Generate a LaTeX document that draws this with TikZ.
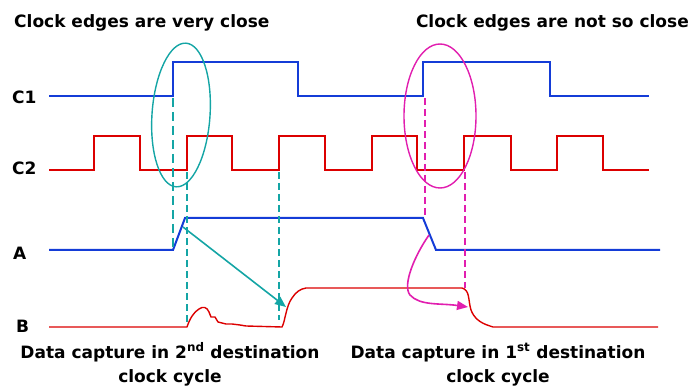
\documentclass[tikz,border=0pt]{standalone}
\usepackage{fontspec}
\setmainfont{DejaVu Sans}
\usetikzlibrary{arrows.meta}
\definecolor{sigblue}{RGB}{20,60,215}
\definecolor{sigred}{RGB}{220,0,0}
\definecolor{tealc}{RGB}{20,165,165}
\definecolor{magc}{RGB}{225,30,175}
\begin{document}
\begin{tikzpicture}[x=1pt,y=-1pt,
  lbl/.style={font=\bfseries\fontsize{17}{20}\selectfont, inner sep=0pt},
  sig/.style={line width=2pt, line join=miter},
  tdash/.style={tealc, dash pattern=on 7pt off 4pt, line width=1.3pt},
  mdash/.style={magc, dash pattern=on 7pt off 4pt, line width=1.3pt}]
\useasboundingbox (0,0) rectangle (693,387);
% titles
\node[lbl, anchor=base west] (t1) at (14,28) {Clock edges are very close};
\node[lbl, anchor=base east] (t2) at (689,28) {Clock edges are not so close};
% signal labels
\node[lbl, anchor=base west] (lc1) at (12,104) {C1};
\node[lbl, anchor=base west] (lc2) at (12,175) {C2};
\node[lbl, anchor=base west] (la) at (13,260) {A};
\node[lbl, anchor=base west] (lb) at (16,332) {B};
% C1
\draw[sig, sigblue] (49,96) -- (173,96) -- (173,62) -- (298,62) -- (298,96) -- (423,96) -- (423,62) -- (550,62) -- (550,96) -- (649,96);
% C2
\draw[sig, sigred] (49,170) -- (94,170) -- (94,136) -- (140,136) -- (140,170) -- (187,170) -- (187,136) -- (232,136) -- (232,170) -- (279,170) -- (279,136) -- (325,136) -- (325,170) -- (372,170) -- (372,136) -- (417,136) -- (417,170) -- (464,170) -- (464,136) -- (511,136) -- (511,170) -- (557,170) -- (557,136) -- (603,136) -- (603,170) -- (649,170);
% A
\draw[sig, sigblue] (49,250) -- (173,250) -- (185,218) -- (423,218) -- (436,250) -- (660,250);
% B
\draw[sigred, line width=1.4pt, line join=round] (49,327) -- (187,327)
  .. controls (190,318) and (194,312) .. (199,309)
  .. controls (203,306) and (207,307) .. (209,312)
  -- (211,317) -- (215,317) -- (218,322) -- (226,324) -- (232,324)
  -- (240,325) -- (246,326) -- (282,327)
  .. controls (285,322) and (286,306) .. (292,298)
  .. controls (296,292) and (300,289) .. (306,288)
  -- (462,288)
  .. controls (470,290) and (468,300) .. (471,310)
  .. controls (474,318) and (480,323) .. (490,326)
  -- (493,327) -- (658,327);
% teal ellipse and dashes
\draw[tealc, line width=1.4pt, rotate around={-4:(181,115)}] (181,115) ellipse [x radius=29, y radius=72];
\draw[tealc, line width=2.2pt, dash pattern=on 9pt off 5pt] (173,98) -- (173,250);
\draw[tdash] (187,172) -- (187,325);
\draw[tdash] (279,172) -- (279,320);
% magenta ellipse and dashes
\draw[magc, line width=1.4pt] (440,116) ellipse [x radius=36, y radius=72];
\draw[mdash] (425,98) -- (425,218);
\draw[mdash] (465,172) -- (465,288);
% arrows
\coordinate (ta) at (183,227);
\coordinate (tb) at (286,307);
\draw[tealc, line width=1.6pt, -{Triangle[length=11pt,width=9pt]}] (ta) -- (tb);
\coordinate (ma) at (429,235);
\coordinate (mb) at (468,307);
\draw[magc, line width=1.6pt, -{Triangle[length=11pt,width=9pt]}] (ma) .. controls (415,255) and (402,285) .. (410,295) .. controls (420,306) and (440,303) .. (mb);
% captions
\node[lbl, anchor=base] (cap1a) at (170,358) {Data capture in 2\textsuperscript{nd} destination};
\node[lbl, anchor=base] (cap1b) at (170,382) {clock cycle};
\node[lbl, anchor=base] (cap2a) at (498,358) {Data capture in 1\textsuperscript{st} destination};
\node[lbl, anchor=base] (cap2b) at (498,382) {clock cycle};
\end{tikzpicture}
\end{document}
